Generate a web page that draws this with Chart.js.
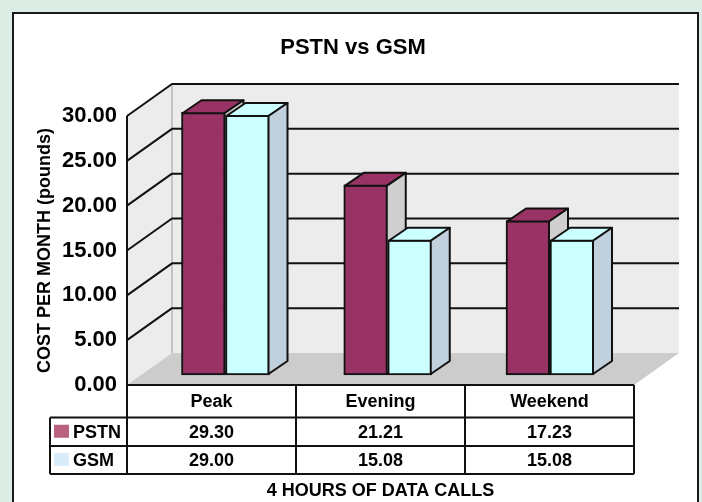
<!DOCTYPE html>
<html lang="en">
<head>
    <meta charset="UTF-8">
    <title>PSTN vs GSM</title>
    <script src="https://cdn.jsdelivr.net/npm/chart.js"></script>
    <style>
        body {
            margin: 0;
            padding: 0;
            background-color: #dcede6;
        }
        canvas {
            display: block;
        }
    </style>
</head>
<body>
    <canvas id="costChart" width="702" height="502"></canvas>

    <script>
        // chart data
        var categories = ['Peak', 'Evening', 'Weekend'];
        var seriesNames = ['PSTN', 'GSM'];
        var pstnCosts = [29.30, 21.21, 17.23];
        var gsmCosts = [29.00, 15.08, 15.08];
        var yTicks = [0, 5, 10, 15, 20, 25, 30];

        var FONT = "'Liberation Sans', Arial, sans-serif";
        var WALL_DX = 45, WALL_DY = 32;   // depth of the 3d box
        var BAR_DX = 14, BAR_DY = 10;     // bars stand a bit behind the front edge
        var TOP_DX = 19, TOP_DY = 13;     // depth of each bar
        var frontColors = ['#993366', '#ccffff'];
        var sideColors = ['#cfcfcf', '#c0d1dd'];
        var swatchColors = ['#b8627f', '#d8edf9'];

        function poly(ctx, pts, fill, stroke) {
            ctx.beginPath();
            ctx.moveTo(pts[0][0], pts[0][1]);
            for (var i = 1; i < pts.length; i++) ctx.lineTo(pts[i][0], pts[i][1]);
            ctx.closePath();
            if (fill) { ctx.fillStyle = fill; ctx.fill(); }
            if (stroke) { ctx.strokeStyle = stroke; ctx.lineWidth = 2; ctx.stroke(); }
        }

        // white panel with black border
        var framePlugin = {
            id: 'frame',
            beforeDraw: function(chart) {
                var ctx = chart.ctx;
                ctx.save();
                ctx.fillStyle = '#ffffff';
                ctx.fillRect(13, 13, 685, 520);
                ctx.strokeStyle = '#1a1a1a';
                ctx.lineWidth = 2;
                ctx.strokeRect(13, 13, 685, 520);
                ctx.restore();
            }
        };

        // walls, floor, gridlines, 3d bars and the data table
        var box3dPlugin = {
            id: 'box3d',
            beforeDatasetsDraw: function(chart) {
                var ctx = chart.ctx;
                var a = chart.chartArea;
                var ys = chart.scales.y;
                var L = a.left, R = a.right, T = a.top, B = a.bottom;

                ctx.save();
                ctx.lineJoin = 'round';
                // back wall + left wall
                ctx.fillStyle = '#ececec';
                ctx.fillRect(L + WALL_DX, T - WALL_DY, R - L, B - T);
                poly(ctx, [[L, T], [L + WALL_DX, T - WALL_DY], [L + WALL_DX, B - WALL_DY], [L, B]], '#ececec');
                // floor
                poly(ctx, [[L, B], [R, B], [R + WALL_DX, B - WALL_DY], [L + WALL_DX, B - WALL_DY]], '#cccccc');
                // wall corner
                ctx.strokeStyle = '#c4c4c4';
                ctx.lineWidth = 2;
                ctx.beginPath();
                ctx.moveTo(L + WALL_DX, T - WALL_DY);
                ctx.lineTo(L + WALL_DX, B - WALL_DY);
                ctx.stroke();

                // gridlines
                ctx.strokeStyle = '#111';
                ctx.lineWidth = 2;
                ys.ticks.forEach(function(t) {
                    if (t.value === 0) return;
                    var py = ys.getPixelForValue(t.value);
                    ctx.beginPath();
                    ctx.moveTo(L, py);
                    ctx.lineTo(L + WALL_DX, py - WALL_DY);
                    ctx.lineTo(R + WALL_DX, py - WALL_DY);
                    ctx.stroke();
                });
                ctx.beginPath();
                ctx.moveTo(L, T);
                ctx.lineTo(L, B);
                ctx.stroke();

                // bars, left to right so the right neighbour hides the side face
                ctx.translate(BAR_DX, -BAR_DY);
                for (var i = 0; i < categories.length; i++) {
                    for (var d = 0; d < chart.data.datasets.length; d++) {
                        var el = chart.getDatasetMeta(d).data[i];
                        var p = el.getProps(['x', 'y', 'base', 'width'], true);
                        var l = p.x - p.width / 2 + 1, r = p.x + p.width / 2 - 1;
                        var top = p.y + 1, base = p.base - 1;
                        el.draw(ctx);
                        poly(ctx, [[l, top], [l + TOP_DX, top - TOP_DY], [r + TOP_DX, top - TOP_DY], [r, top]], frontColors[d], '#111');
                        poly(ctx, [[r, top], [r + TOP_DX, top - TOP_DY], [r + TOP_DX, base - TOP_DY], [r, base]], sideColors[d], '#111');
                    }
                }
                ctx.restore();

                // data table
                var colW = (R - L) / categories.length;
                var rows = [B, B + 32.5, B + 61, B + 89];
                var legendLeft = 50;
                ctx.save();
                ctx.strokeStyle = '#111';
                ctx.lineWidth = 2;
                ctx.beginPath();
                ctx.moveTo(L, rows[0]); ctx.lineTo(R, rows[0]);
                for (var k = 1; k < rows.length; k++) {
                    ctx.moveTo(legendLeft, rows[k]); ctx.lineTo(R, rows[k]);
                }
                ctx.moveTo(legendLeft, rows[1]); ctx.lineTo(legendLeft, rows[3]);
                for (var c = 0; c <= categories.length; c++) {
                    ctx.moveTo(L + c * colW, rows[0]); ctx.lineTo(L + c * colW, rows[3]);
                }
                ctx.stroke();

                ctx.fillStyle = '#000';
                ctx.font = 'bold 18px ' + FONT;
                ctx.textAlign = 'center';
                ctx.textBaseline = 'middle';
                var series = [pstnCosts, gsmCosts];
                categories.forEach(function(cat, ci) {
                    var cx = L + (ci + 0.5) * colW;
                    ctx.fillText(cat, cx, (rows[0] + rows[1]) / 2 + 1);
                    series.forEach(function(vals, si) {
                        ctx.fillText(vals[ci].toFixed(2), cx, (rows[si + 1] + rows[si + 2]) / 2 + 1);
                    });
                });
                ctx.textAlign = 'left';
                seriesNames.forEach(function(name, si) {
                    var mid = (rows[si + 1] + rows[si + 2]) / 2;
                    ctx.fillStyle = swatchColors[si];
                    ctx.fillRect(54, mid - 7, 15, 13);
                    ctx.fillStyle = '#000';
                    ctx.fillText(name, 73, mid + 1);
                });
                ctx.restore();
                return false;
            }
        };

        var ctx = document.getElementById('costChart').getContext('2d');
        var costChart = new Chart(ctx, {
            type: 'bar',
            data: {
                labels: categories,
                datasets: [{
                    label: seriesNames[0],
                    data: pstnCosts.map(function(v, i) { return { x: i, y: v }; }),
                    backgroundColor: frontColors[0],
                    xAxisID: 'xb'
                }, {
                    label: seriesNames[1],
                    data: gsmCosts.map(function(v, i) { return { x: i, y: v }; }),
                    backgroundColor: frontColors[1],
                    xAxisID: 'xb'
                }]
            },
            options: {
                responsive: false,
                animation: false,
                devicePixelRatio: 1,
                layout: { padding: { left: 20, right: 16, top: 0, bottom: 0 } },
                datasets: {
                    bar: {
                        barThickness: 44,
                        borderWidth: 2,
                        borderColor: '#111',
                        borderSkipped: false
                    }
                },
                plugins: {
                    legend: { display: false },
                    tooltip: { enabled: false },
                    title: {
                        display: true,
                        text: 'PSTN vs GSM',
                        color: '#000',
                        font: { family: FONT, size: 22, weight: 'bold' },
                        padding: { top: 34.3, bottom: 55.3 }
                    }
                },
                scales: {
                    x: {
                        type: 'category',
                        position: 'bottom',
                        grid: { display: false, drawTicks: false },
                        border: { display: false },
                        ticks: { display: false },
                        title: {
                            display: true,
                            text: '4 HOURS OF DATA CALLS',
                            color: '#000',
                            font: { family: FONT, size: 18, weight: 'bold' },
                            padding: { top: 95.4, bottom: 0 }
                        }
                    },
                    xb: {
                        type: 'linear',
                        display: false,
                        offset: false,
                        bounds: 'data',
                        min: -0.5208,
                        max: 2.604
                    },
                    y: {
                        min: 0,
                        max: 30,
                        grid: { display: false, drawTicks: false },
                        border: { display: false },
                        afterBuildTicks: function(scale) {
                            scale.ticks = yTicks.map(function(v) { return { value: v }; });
                        },
                        afterFit: function(scale) { scale.width = 107; },
                        ticks: {
                            padding: 10,
                            color: '#000',
                            font: { family: FONT, size: 22, weight: 'bold' },
                            callback: function(v) { return Number(v).toFixed(2); }
                        },
                        title: {
                            display: true,
                            text: 'COST PER MONTH (pounds)',
                            color: '#000',
                            font: { family: FONT, size: 18, weight: 'bold' },
                            padding: { top: 14.2, bottom: 0 }
                        }
                    },
                    yr: {
                        type: 'linear',
                        position: 'right',
                        grid: { display: false, drawTicks: false },
                        border: { display: false },
                        ticks: { display: false },
                        afterFit: function(scale) { scale.width = 52; }
                    }
                }
            },
            plugins: [framePlugin, box3dPlugin]
        });
    </script>
</body>
</html>
